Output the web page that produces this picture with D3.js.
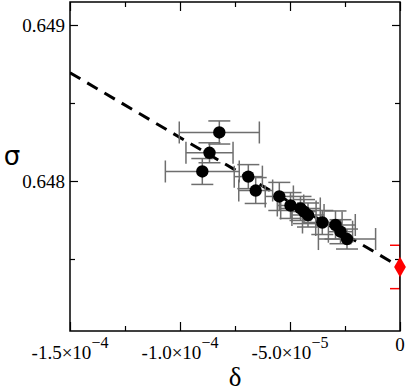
<!DOCTYPE html>
<html><head><meta charset="utf-8">
<script src="https://cdn.jsdelivr.net/npm/d3@7"></script>
<style>body{margin:0;background:#fff}svg{display:block}</style>
</head><body>
<script>
// ---- data ----
const deltaVals = [-8.213e-5,-8.659e-5,-8.986e-5,-6.895e-5,-6.559e-5,-5.486e-5,-4.977e-5,-4.523e-5,-4.364e-5,-4.182e-5,-3.532e-5,-2.932e-5,-2.705e-5,-2.409e-5];
const sigmaVals = [0.648311,0.648181,0.648061,0.648028,0.647939,0.647901,0.647843,0.647824,0.647804,0.647782,0.647734,0.647718,0.647675,0.647628];
const deltaErr  = [1.82e-5,1.07e-5,1.68e-5,6.4e-6,7.7e-6,6.4e-6,6.0e-6,9.0e-6,5.5e-6,7.3e-6,9.0e-6,9.0e-6,5.5e-6,1.3e-5];
const sigmaErr  = [7.4e-5,6.4e-5,8.3e-5,7.7e-5,8.3e-5,9.0e-5,8.3e-5,7.7e-5,7.7e-5,7.7e-5,7.7e-5,9.0e-5,7.7e-5,6.4e-5];
const fitDelta = [-1.5e-4, 0];
const fitSigma = [0.648694, 0.647449];
const extrapDelta = [0];
const extrapSigma = [0.647449];
const extrapErr = [1.39e-4];
const xMajorTicks = [-1.5e-4,-1.0e-4,-5.0e-5,0];
const xTickMant = ["-1.5","-1.0","-5.0","0"];
const xTickExp = ["\u22124","\u22124","\u22125",""];
const xMinorTicks = [-1.25e-4,-7.5e-5,-2.5e-5];
const yMajorTicks = [0.648,0.649];
const yTickLabels = ["0.648","0.649"];
const yMinorTicks = [0.6475,0.6485];

const W=409,H=391;
const L=70,R=400,T=2,B=331;
const x=d3.scaleLinear().domain([-1.5e-4,0]).range([L,R]);
const y=d3.scaleLinear().domain([0.6470385,0.6491474]).range([B,T]);

const svg=d3.select("body").append("svg").attr("width",W).attr("height",H);
svg.append("defs").append("clipPath").attr("id","clip")
  .append("rect").attr("x",L).attr("y",T).attr("width",R-L).attr("height",B-T);
const plot=svg.append("g").attr("clip-path","url(#clip)");

// fit line
plot.append("line")
  .attr("x1",x(fitDelta[0])).attr("y1",y(fitSigma[0]))
  .attr("x2",x(fitDelta[1])).attr("y2",y(fitSigma[1]))
  .attr("stroke","#000").attr("stroke-width",3).attr("stroke-dasharray","12,8");

// error bars
const ebColor="#6e6e6e", cap=11;
const idx=d3.range(deltaVals.length);
const eb=plot.append("g").attr("stroke",ebColor).attr("stroke-width",1.5);
idx.forEach(i=>{
  const cx=x(deltaVals[i]), cy=y(sigmaVals[i]);
  const x0=x(deltaVals[i]-deltaErr[i]), x1=x(deltaVals[i]+deltaErr[i]);
  const y0=y(sigmaVals[i]-sigmaErr[i]), y1=y(sigmaVals[i]+sigmaErr[i]);
  eb.append("line").attr("x1",x0).attr("x2",x1).attr("y1",cy).attr("y2",cy);
  eb.append("line").attr("x1",x0).attr("x2",x0).attr("y1",cy-cap).attr("y2",cy+cap);
  eb.append("line").attr("x1",x1).attr("x2",x1).attr("y1",cy-cap).attr("y2",cy+cap);
  eb.append("line").attr("x1",cx).attr("x2",cx).attr("y1",y0).attr("y2",y1);
  eb.append("line").attr("x1",cx-cap).attr("x2",cx+cap).attr("y1",y0).attr("y2",y0);
  eb.append("line").attr("x1",cx-cap).attr("x2",cx+cap).attr("y1",y1).attr("y2",y1);
});
plot.append("g").selectAll("circle").data(idx).join("circle")
  .attr("cx",i=>x(deltaVals[i])).attr("cy",i=>y(sigmaVals[i])).attr("r",6.2).attr("fill","#000");

// extrapolated point error bar (clipped)
const rg=plot.append("g").attr("stroke","#f00").attr("stroke-width",1.5);
extrapDelta.forEach((d,i)=>{
  const cx=x(d);
  const y0=y(extrapSigma[i]-extrapErr[i]), y1=y(extrapSigma[i]+extrapErr[i]);
  rg.append("line").attr("x1",cx).attr("x2",cx).attr("y1",y0).attr("y2",y1);
  rg.append("line").attr("x1",cx-10).attr("x2",cx+10).attr("y1",y0).attr("y2",y0);
  rg.append("line").attr("x1",cx-10).attr("x2",cx+10).attr("y1",y1).attr("y2",y1);
});

// frame
svg.append("rect").attr("x",L).attr("y",T).attr("width",R-L).attr("height",B-T)
  .attr("fill","none").attr("stroke","#000").attr("stroke-width",1.5);

function ticks(gen,pos,vals,size){
  const g=svg.append("g").attr("transform",pos)
    .call(gen.tickValues(vals).tickSize(-size).tickFormat(""));
  g.select(".domain").remove();
  g.selectAll(".tick line").attr("stroke","#000").attr("stroke-width",1.2);
}
ticks(d3.axisBottom(x),`translate(0,${B})`,xMajorTicks,9);
ticks(d3.axisBottom(x),`translate(0,${B})`,xMinorTicks,5);
ticks(d3.axisTop(x),`translate(0,${T})`,xMajorTicks,9);
ticks(d3.axisTop(x),`translate(0,${T})`,xMinorTicks,5);
ticks(d3.axisLeft(y),`translate(${L},0)`,yMajorTicks,8);
ticks(d3.axisLeft(y),`translate(${L},0)`,yMinorTicks,5);
ticks(d3.axisRight(y),`translate(${R},0)`,yMajorTicks,8);
ticks(d3.axisRight(y),`translate(${R},0)`,yMinorTicks,5);

// extrapolated diamond (not clipped, drawn over frame)
extrapDelta.forEach((d,i)=>{
  svg.append("path").attr("d",d3.symbol(d3.symbolDiamond,120)())
    .attr("transform",`translate(${x(d)},${y(extrapSigma[i])})`).attr("fill","#f00");
});

const font="'Liberation Serif', 'Times New Roman', serif";
// y tick labels
svg.append("g").selectAll("text").data(yMajorTicks).join("text")
  .attr("x",L-5).attr("y",d=>y(d)).attr("dy","0.35em")
  .attr("text-anchor","end").attr("font-family",font).attr("font-size",19)
  .text((d,i)=>yTickLabels[i]);
// x tick labels
xMajorTicks.forEach((v,i)=>{
  const t=svg.append("text").attr("x",x(v)).attr("text-anchor","middle")
    .attr("font-family",font).attr("font-size",19);
  if(xTickExp[i]){
    t.attr("y",359);
    t.append("tspan").text(xTickMant[i]+"\u00d710");
    t.append("tspan").attr("dy",-11).attr("font-size",16).text(xTickExp[i]);
  } else {
    t.attr("y",351).text(xTickMant[i]);
  }
});
// axis labels
svg.append("text").attr("x",x(-7.5e-5)).attr("y",386).attr("text-anchor","middle")
  .attr("font-family",font).attr("font-size",27).text("\u03b4");
svg.append("text").attr("x",12).attr("y",y(0.64816)).attr("dy","0.35em").attr("text-anchor","middle")
  .attr("font-family","'DejaVu Sans', sans-serif").attr("font-size",26).text("\u03c3");
</script>
</body></html>
